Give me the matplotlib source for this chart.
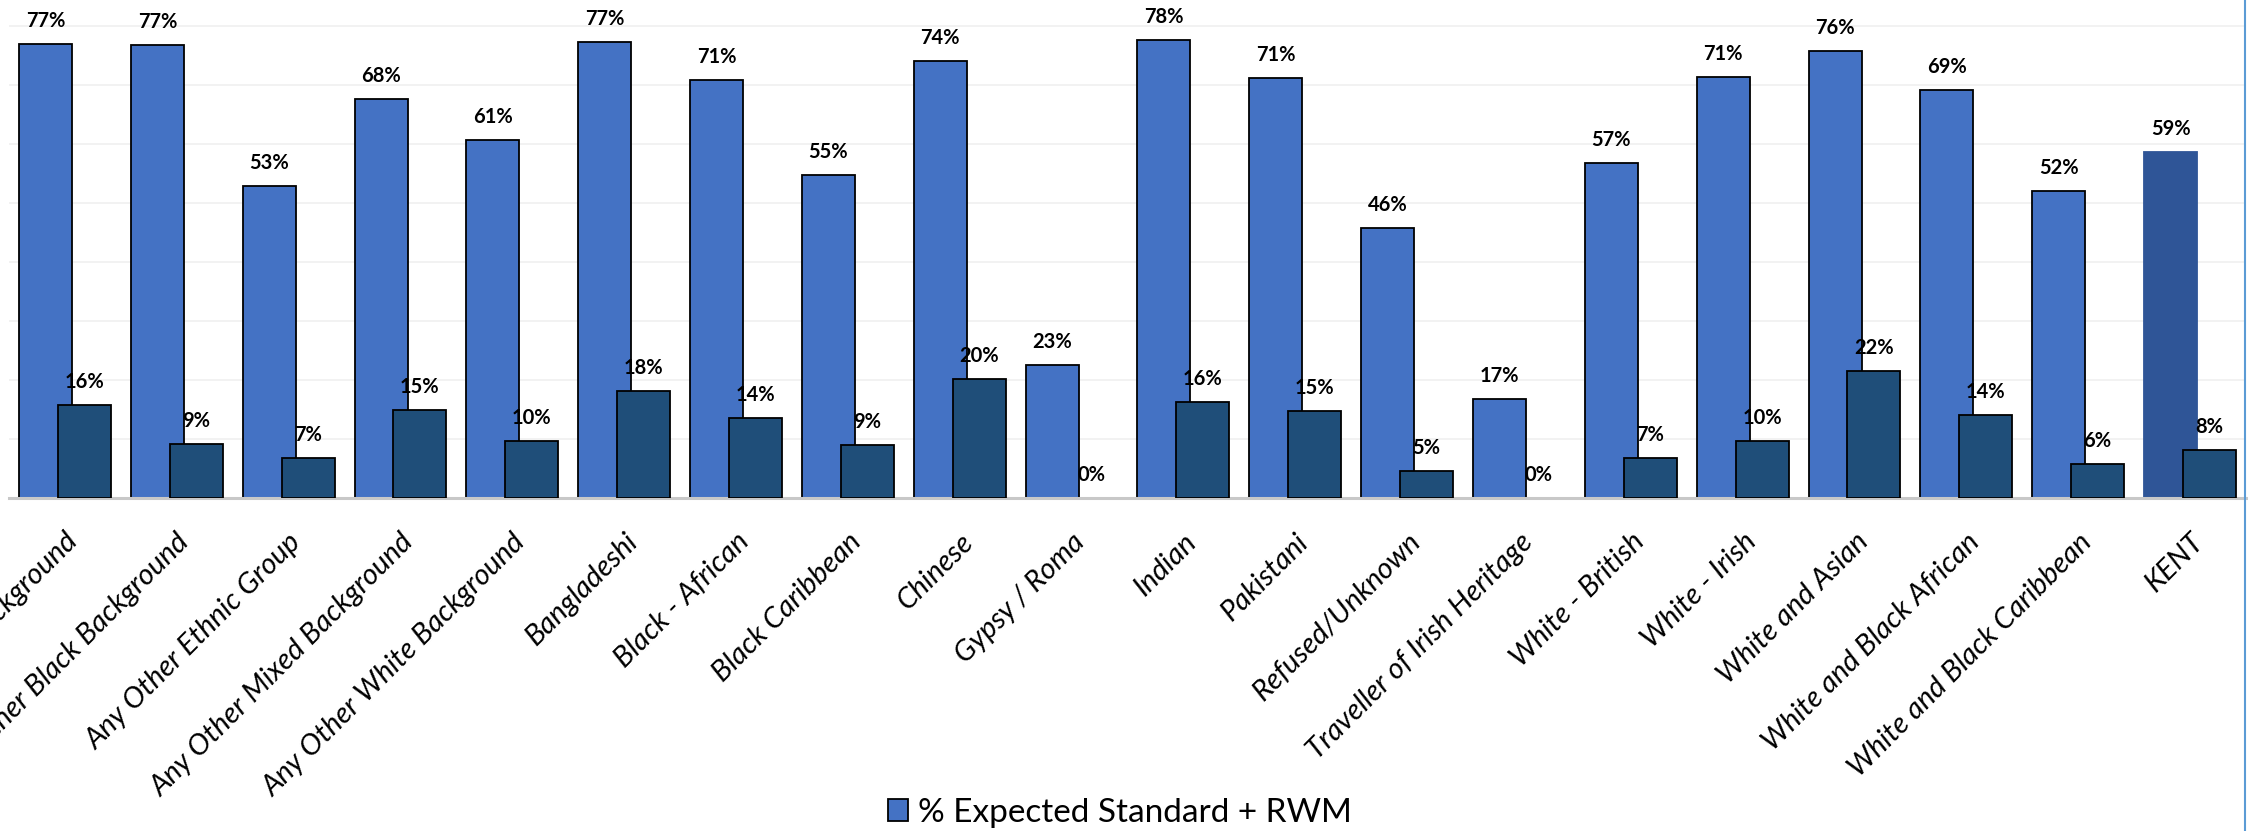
import numpy as np
import matplotlib
matplotlib.use("Agg")
import matplotlib.pyplot as plt
from matplotlib.lines import Line2D
from matplotlib.patches import Patch

# data
categories = [
    "Any Other Asian Background", "Any Other Black Background", "Any Other Ethnic Group",
    "Any Other Mixed Background", "Any Other White Background", "Bangladeshi",
    "Black - African", "Black Caribbean", "Chinese", "Gypsy / Roma", "Indian",
    "Pakistani", "Refused/Unknown", "Traveller of Irish Heritage", "White - British",
    "White - Irish", "White and Asian", "White and Black African",
    "White and Black Caribbean", "KENT",
]
expected_rwm = [0.769, 0.767, 0.529, 0.677, 0.607, 0.773, 0.709, 0.548, 0.741, 0.226,
                0.777, 0.712, 0.458, 0.167, 0.567, 0.714, 0.757, 0.691, 0.521, 0.586]
higher_rwm = [0.157, 0.091, 0.067, 0.149, 0.096, 0.181, 0.136, 0.089, 0.201, 0.0,
              0.162, 0.147, 0.046, 0.0, 0.067, 0.096, 0.216, 0.141, 0.057, 0.081]
legend_label = "% Expected Standard + RWM"

blue = "#4472C4"
kent_blue = "#2F5597"
dark = "#1F4E79"

W, H = 2248, 831
fig = plt.figure(figsize=(W / 100, H / 100), dpi=100)
ax = fig.add_axes([9 / W, (H - 498) / H, 2237 / W, 498 / H])

x = np.arange(len(categories))
bw = 0.474
off = 0.174

blue_cols = [blue] * (len(categories) - 1) + [kent_blue]
blue_edges = ["black"] * (len(categories) - 1) + [kent_blue]
dark_lw = [1.3 if v > 0 else 0 for v in higher_rwm]
b1 = ax.bar(x - off, expected_rwm, bw, color=blue_cols, edgecolor=blue_edges,
            linewidth=1.3, zorder=2)
b2 = ax.bar(x + off, higher_rwm, bw, color=dark, edgecolor="black",
            linewidth=dark_lw, zorder=3)

for bars, vals in ((b1, expected_rwm), (b2, higher_rwm)):
    for r, v in zip(bars, vals):
        ax.annotate(f"{v:.0%}", (r.get_x() + r.get_width() / 2, v),
                    xytext=(0, 17), textcoords="offset pixels",
                    ha="center", va="baseline", fontsize=14.5,
                    fontweight="bold", family="Lato", zorder=5)

ax.set_xlim(-0.5, len(categories) - 0.5)
ax.set_ylim(0, 0.844)
ax.set_yticks(np.arange(0.1, 0.81, 0.1))
ax.yaxis.grid(True, color="#F0F0F0", linewidth=1.2, zorder=0)
ax.set_axisbelow(True)
ax.tick_params(axis="y", left=False, labelleft=False)
ax.tick_params(axis="x", length=0, pad=22)
ax.set_xticks(x)
ax.set_xticklabels(categories, rotation=45, ha="right", rotation_mode="anchor",
                   fontsize=21, style="italic", family="Lato")
for s in ("top", "left", "right"):
    ax.spines[s].set_visible(False)
ax.spines["bottom"].set_color("#C8C8C8")
ax.spines["bottom"].set_linewidth(2.2)

handle = Patch(facecolor=blue, edgecolor="black", linewidth=1.3)
fig.legend([handle], [legend_label], loc="center", bbox_to_anchor=(0.498, 0.022),
           frameon=False, prop={"family": "Lato", "size": 24},
           handlelength=0.6, handleheight=0.6, handletextpad=0.3)

fig.add_artist(Line2D([2245 / W, 2245 / W], [0, 1], color="#5B9BD5", linewidth=1.5))

fig.savefig("out.png", dpi=100)
